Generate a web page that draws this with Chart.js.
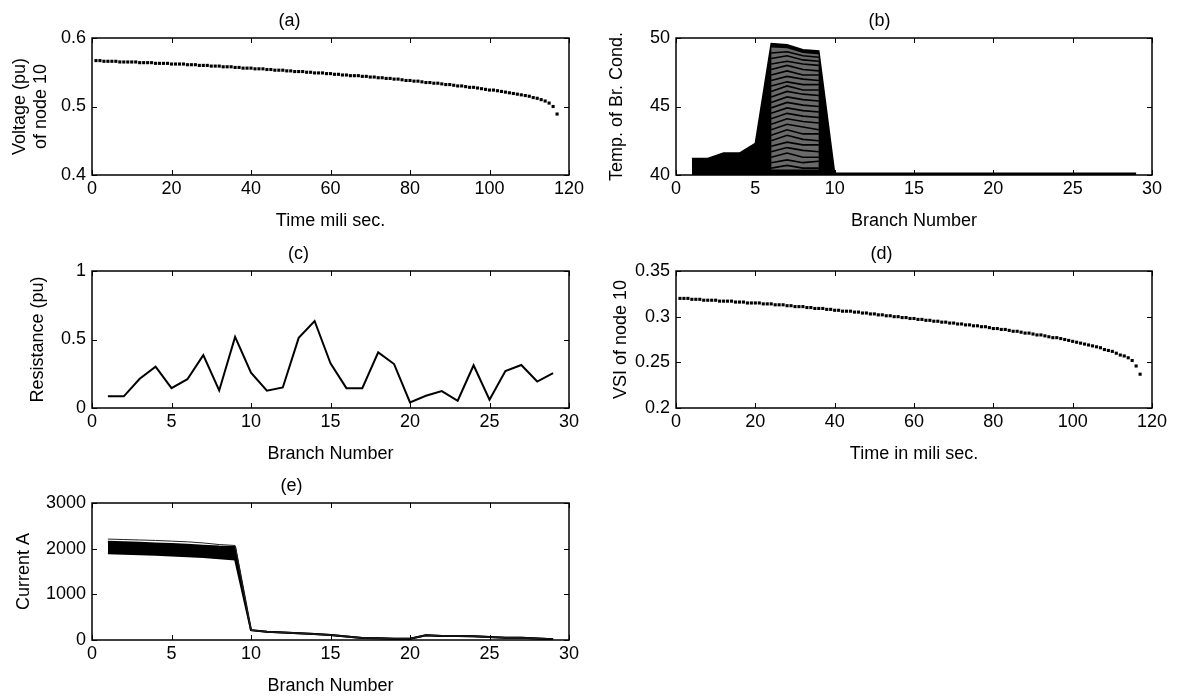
<!DOCTYPE html>
<html>
<head>
<meta charset="utf-8">
<title>Node 10 and branch conductor results</title>
<script src="https://cdn.jsdelivr.net/npm/chart.js@4.4.1/dist/chart.umd.min.js"></script>
<style>
  html, body { margin: 0; padding: 0; background: #fff; }
  body { width: 1177px; height: 696px; position: relative; overflow: hidden; }
  canvas { position: absolute; }
</style>
</head>
<body>
<canvas id="chartA"></canvas>
<canvas id="chartB"></canvas>
<canvas id="chartC"></canvas>
<canvas id="chartD"></canvas>
<canvas id="chartE"></canvas>
<script>
// (a) voltage of node 10, one sample per ms (1..117)
const voltageNode10 = [
  0.567, 0.567, 0.566, 0.566, 0.566, 0.566, 0.565, 0.565, 0.565, 0.565,
  0.565, 0.564, 0.564, 0.564, 0.564, 0.563, 0.563, 0.563, 0.563, 0.562,
  0.562, 0.562, 0.562, 0.561, 0.561, 0.561, 0.560, 0.560, 0.560, 0.559,
  0.559, 0.559, 0.558, 0.558, 0.558, 0.557, 0.557, 0.556, 0.556, 0.556,
  0.555, 0.555, 0.555, 0.554, 0.554, 0.553, 0.553, 0.553, 0.552, 0.552,
  0.551, 0.551, 0.551, 0.550, 0.550, 0.549, 0.549, 0.549, 0.548, 0.548,
  0.547, 0.547, 0.546, 0.546, 0.545, 0.545, 0.545, 0.544, 0.544, 0.543,
  0.543, 0.542, 0.542, 0.541, 0.541, 0.540, 0.540, 0.539, 0.538, 0.538,
  0.537, 0.537, 0.536, 0.535, 0.535, 0.534, 0.534, 0.533, 0.532, 0.532,
  0.531, 0.530, 0.530, 0.529, 0.528, 0.528, 0.527, 0.526, 0.525, 0.524,
  0.524, 0.523, 0.522, 0.521, 0.520, 0.519, 0.518, 0.517, 0.516, 0.515,
  0.513, 0.512, 0.510, 0.508, 0.505, 0.500, 0.489
];

// (d) VSI of node 10, same time base
const vsiNode10 = [
  0.320, 0.320, 0.320, 0.319, 0.319, 0.319, 0.318, 0.318, 0.318, 0.318,
  0.317, 0.317, 0.317, 0.317, 0.316, 0.316, 0.316, 0.315, 0.315, 0.315,
  0.315, 0.314, 0.314, 0.314, 0.313, 0.313, 0.313, 0.312, 0.312, 0.311,
  0.311, 0.311, 0.310, 0.310, 0.309, 0.309, 0.309, 0.308, 0.308, 0.307,
  0.307, 0.306, 0.306, 0.306, 0.305, 0.305, 0.304, 0.304, 0.303, 0.303,
  0.302, 0.302, 0.301, 0.301, 0.300, 0.300, 0.299, 0.299, 0.298, 0.298,
  0.297, 0.297, 0.296, 0.296, 0.295, 0.295, 0.294, 0.294, 0.293, 0.293,
  0.292, 0.292, 0.291, 0.291, 0.290, 0.290, 0.289, 0.289, 0.288, 0.287,
  0.287, 0.286, 0.286, 0.285, 0.284, 0.284, 0.283, 0.282, 0.282, 0.281,
  0.280, 0.280, 0.279, 0.278, 0.277, 0.277, 0.276, 0.275, 0.274, 0.273,
  0.272, 0.271, 0.270, 0.269, 0.268, 0.267, 0.266, 0.264, 0.263, 0.262,
  0.260, 0.258, 0.257, 0.255, 0.252, 0.246, 0.237
];

const branches = [1, 2, 3, 4, 5, 6, 7, 8, 9, 10, 11, 12, 13, 14, 15,
  16, 17, 18, 19, 20, 21, 22, 23, 24, 25, 26, 27, 28, 29];

// (b) conductor temperature: upper envelope of all time steps
const tempHead = [41.2, 41.2, 41.6, 41.6, 42.3, 49.6, 49.5, 49.15, 49.05];
const tempRest = [40.12, 40.12, 40.12, 40.12, 40.12, 40.12, 40.12, 40.12, 40.12, 40.12,
  40.12, 40.12, 40.12, 40.12, 40.12, 40.12, 40.12, 40.12, 40.12, 40.12];
// branches 6..9 where the curves of successive time steps spread out
const stripeBranches = [6, 7, 8, 9];
const tempSpreadTop = [49.3, 49.25, 48.9, 48.8];
const tempStripes = [
  [40.5, 40.7, 40.5, 40.5],
  [40.9, 41.1, 40.9, 41.0],
  [41.3, 41.6, 41.3, 41.3],
  [41.7, 42.0, 41.8, 41.7],
  [42.1, 42.4, 42.2, 42.2],
  [42.5, 42.9, 42.6, 42.5],
  [42.9, 43.3, 43.0, 43.0],
  [43.3, 43.7, 43.5, 43.3],
  [43.7, 44.1, 43.9, 43.8],
  [44.1, 44.5, 44.3, 44.2],
  [44.5, 44.9, 44.7, 44.6],
  [44.9, 45.3, 45.1, 45.0],
  [45.3, 45.7, 45.5, 45.4],
  [45.7, 46.1, 45.9, 45.8],
  [46.1, 46.5, 46.2, 46.2],
  [46.5, 46.8, 46.6, 46.6],
  [46.9, 47.2, 47.0, 46.9],
  [47.3, 47.6, 47.3, 47.3],
  [47.7, 48.0, 47.7, 47.6],
  [48.1, 48.3, 48.1, 48.0],
  [48.5, 48.7, 48.4, 48.3],
  [48.9, 49.0, 48.7, 48.6]
];

// (c) branch resistance
const resistancePu = [0.085, 0.085, 0.213, 0.302, 0.145, 0.21, 0.386, 0.128, 0.519, 0.258,
  0.126, 0.15, 0.512, 0.635, 0.326, 0.145, 0.145, 0.406, 0.321, 0.041,
  0.089, 0.123, 0.053, 0.312, 0.06, 0.27, 0.314, 0.193, 0.255];

// (e) branch current: band of curves on branches 1..9, single curve after
const currentTopHead = [2210, 2200, 2190, 2180, 2165, 2150, 2125, 2090, 2070];
const currentHighHead = [2150, 2140, 2130, 2115, 2100, 2085, 2065, 2045, 2035];
const currentLowHead = [1900, 1890, 1880, 1865, 1850, 1835, 1820, 1790, 1760];
const currentRest = [215, 180, 165, 150, 130, 108, 75, 45, 36, 30,
  28, 105, 90, 86, 84, 65, 52, 48, 32, 15];

// tick labels
const timeTicks = [0, 20, 40, 60, 80, 100, 120];
const branchTicks = [0, 5, 10, 15, 20, 25, 30];
const voltageTicks = [0.4, 0.5, 0.6];
const tempTicks = [40, 45, 50];
const resistanceTicks = [0, 0.5, 1];
const vsiTicks = [0.2, 0.25, 0.3, 0.35];
const currentTicks = [0, 1000, 2000, 3000];

Chart.defaults.font.family = "'Liberation Sans', Arial, sans-serif";
Chart.defaults.font.size = 18;
Chart.defaults.color = '#000';

const TITLE_BOX = 40;
const X_BOX = 57;
const PAD_R = 24;

// MATLAB style box with inward ticks on all four sides
const matlabAxes = {
  id: 'matlabAxes',
  afterDatasetsDraw(chart) {
    const { ctx, chartArea: a, scales: { x, y } } = chart;
    ctx.save();
    ctx.strokeStyle = '#000';
    ctx.lineWidth = 1;
    ctx.beginPath();
    x.ticks.forEach(t => {
      const px = Math.round(x.getPixelForValue(t.value)) + 0.5;
      ctx.moveTo(px, a.bottom); ctx.lineTo(px, a.bottom - 5);
      ctx.moveTo(px, a.top); ctx.lineTo(px, a.top + 5);
    });
    y.ticks.forEach(t => {
      const py = Math.round(y.getPixelForValue(t.value)) + 0.5;
      ctx.moveTo(a.left, py); ctx.lineTo(a.left + 5, py);
      ctx.moveTo(a.right, py); ctx.lineTo(a.right - 5, py);
    });
    ctx.stroke();
    ctx.lineWidth = 1.5;
    ctx.strokeRect(a.left, a.top, a.right - a.left, a.bottom - a.top);
    ctx.restore();
  }
};

function axis(min, max, tickList, title, fitKey, fitVal) {
  return {
    type: 'linear',
    min: min,
    max: max,
    grid: { display: false, drawTicks: false },
    border: { display: false },
    afterBuildTicks: s => { s.ticks = tickList.map(v => ({ value: v })); },
    afterFit: s => { s[fitKey] = fitVal; },
    ticks: { padding: fitKey === 'height' ? 3 : 6, autoSkip: false, maxRotation: 0, callback: v => String(v) },
    title: { display: true, text: title, padding: 0, font: { size: 18, lineHeight: '21px' } }
  };
}

function makePanel(id, rect, yW, label, xAxis, yAxis, datasets) {
  const cv = document.getElementById(id);
  cv.width = yW + (rect.r - rect.l) + PAD_R;
  cv.height = TITLE_BOX + (rect.b - rect.t) + X_BOX;
  cv.style.left = (rect.l - yW) + 'px';
  cv.style.top = (rect.t - TITLE_BOX) + 'px';
  return new Chart(cv, {
    type: 'line',
    data: { datasets: datasets },
    options: {
      responsive: false,
      animation: false,
      layout: { padding: { left: 0, top: 0, right: PAD_R, bottom: 0 }, autoPadding: false },
      plugins: {
        legend: { display: false },
        tooltip: { enabled: false },
        title: { display: true, text: label, color: '#000',
          font: { size: 18, weight: 'normal', lineHeight: '22px' }, padding: { top: 12, bottom: 6 } }
      },
      scales: {
        x: axis(xAxis.min, xAxis.max, xAxis.ticks, xAxis.title, 'height', X_BOX),
        y: axis(yAxis.min, yAxis.max, yAxis.ticks, yAxis.title, 'width', yW)
      }
    },
    plugins: [matlabAxes]
  });
}

const xy = (xs, ys) => ys.map((v, i) => ({ x: xs[i], y: v }));
const timeMs = voltageNode10.map((_, i) => i + 1);

function dots(xs, ys) {
  return { data: xy(xs, ys), showLine: false, pointStyle: 'rect', pointRadius: 2.2,
    pointBackgroundColor: '#000', pointBorderWidth: 0 };
}
function curve(xs, ys, extra) {
  return Object.assign({ data: xy(xs, ys), borderColor: '#000', borderWidth: 2,
    pointRadius: 0, tension: 0, fill: false }, extra || {});
}

const rectA = { l: 92, r: 569, t: 38, b: 175 };
const rectB = { l: 676, r: 1152, t: 38, b: 175 };
const rectC = { l: 92, r: 569, t: 271, b: 408 };
const rectD = { l: 676, r: 1152, t: 271, b: 408 };
const rectE = { l: 92, r: 569, t: 503, b: 640 };

makePanel('chartA', rectA, 82, '(a)',
  { min: 0, max: 120, ticks: timeTicks, title: 'Time mili sec.' },
  { min: 0.4, max: 0.6, ticks: voltageTicks, title: ['Voltage (pu)', 'of node 10'] },
  [dots(timeMs, voltageNode10)]);

const tempSets = [
  curve(branches, tempHead.concat(tempRest), { order: 3, borderWidth: 1.5, fill: 'origin', backgroundColor: '#000' }),
  curve(stripeBranches, tempSpreadTop, { order: 2, borderWidth: 0, fill: { value: 40.4 }, backgroundColor: '#6a6a6a' })
];
tempStripes.forEach(row => tempSets.push(curve(stripeBranches, row, { order: 1, borderWidth: 1.6 })));

makePanel('chartB', rectB, 69, '(b)',
  { min: 0, max: 30, ticks: branchTicks, title: 'Branch Number' },
  { min: 40, max: 50, ticks: tempTicks, title: 'Temp. of Br. Cond.' },
  tempSets);

makePanel('chartC', rectC, 64, '(c)',
  { min: 0, max: 30, ticks: branchTicks, title: 'Branch Number' },
  { min: 0, max: 1, ticks: resistanceTicks, title: 'Resistance (pu)' },
  [curve(branches, resistancePu)]);

makePanel('chartD', rectD, 65, '(d)',
  { min: 0, max: 120, ticks: timeTicks, title: 'Time in mili sec.' },
  { min: 0.2, max: 0.35, ticks: vsiTicks, title: 'VSI of node 10' },
  [dots(timeMs, vsiNode10)]);

makePanel('chartE', rectE, 78, '(e)',
  { min: 0, max: 30, ticks: branchTicks, title: 'Branch Number' },
  { min: 0, max: 3000, ticks: currentTicks, title: 'Current A' },
  [
    curve(branches, currentTopHead.concat(currentRest), { order: 0, borderWidth: 1, borderColor: '#222' }),
    curve(branches, currentHighHead.concat(currentRest), { order: 1, borderWidth: 2, fill: '+1', backgroundColor: '#000' }),
    curve(branches, currentLowHead.concat(currentRest), { order: 2, borderWidth: 2 })
  ]);
</script>
</body>
</html>
